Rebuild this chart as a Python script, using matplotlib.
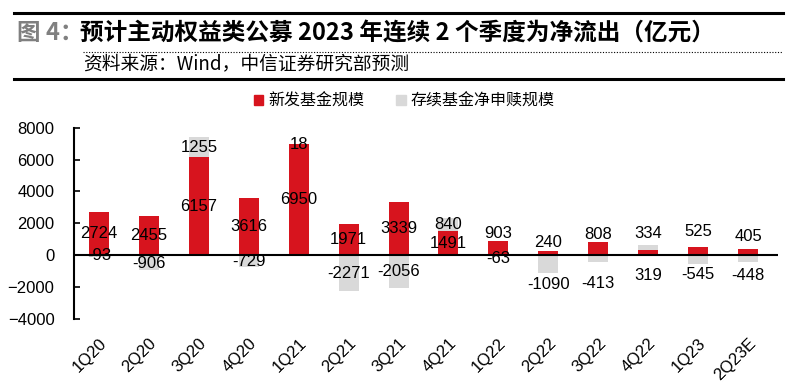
import numpy as np
import matplotlib
matplotlib.use("Agg")
from matplotlib import pyplot as plt
from matplotlib.patches import Rectangle
from matplotlib.lines import Line2D

plt.rcParams['font.family'] = ['Liberation Sans', 'Noto Sans CJK SC', 'DejaVu Sans']

quarters = ['1Q20', '2Q20', '3Q20', '4Q20', '1Q21', '2Q21', '3Q21', '4Q21',
            '1Q22', '2Q22', '3Q22', '4Q22', '1Q23', '2Q23E']
new_funds = [2724, 2455, 6157, 3616, 6950, 1971, 3339, 1491, 903, 240, 808, 334, 525, 405]
net_redeem = [-93, -906, 1255, -729, 18, -2271, -2056, 840, -63, -1090, -413, 319, -545, -448]

title_tag = "图 4："
title_text = "预计主动权益类公募 2023 年连续 2 个季度为净流出（亿元）"
source_text = "资料来源：Wind，中信证券研究部预测"
legend_labels = ["新发基金规模", "存续基金净申赎规模"]

RED = '#D7141E'
GREY = '#D9D9D9'

# labels for the small bars were moved by hand in the original
new_label_moved = {8: 1375, 9: 810, 10: 1310, 11: 1375, 12: 1500, 13: 1190}
redeem_label_moved = {1: -500, 8: -190, 9: -1810, 10: -1750, 11: -1250, 12: -1190, 13: -1250}

fig = plt.figure(figsize=(8, 3.83), dpi=100)
ax = fig.add_axes([0.0925, 0.167, 0.88, 0.4996])

x = np.arange(len(quarters))
new_arr = np.array(new_funds)
red_arr = np.array(net_redeem)
bottoms = np.where(red_arr > 0, new_arr, 0)

ax.bar(x, new_arr, width=0.4, color=RED, zorder=2)
ax.bar(x, red_arr, width=0.4, bottom=bottoms, color=GREY, zorder=1)

for i in range(len(quarters)):
    y1 = new_label_moved.get(i, new_arr[i] / 2)
    ax.text(x[i], y1, str(new_arr[i]), ha='center', va='center', fontsize=12, zorder=3)
    y2 = redeem_label_moved.get(i, bottoms[i] + red_arr[i] / 2)
    ax.text(x[i], y2, str(red_arr[i]), ha='center', va='center', fontsize=12, zorder=3)

ax.axhline(0, color='black', lw=1.5, zorder=4)
ax.set_xlim(-0.5, 13.6)
ax.set_ylim(-4000, 8000)
ax.set_yticks(range(-4000, 8001, 2000))
ax.tick_params(axis='y', direction='in', length=4, width=1.2, labelsize=12, pad=14)
ax.set_xticks(x)
ax.set_xticklabels(quarters, rotation=45, ha='right', va='top', rotation_mode='anchor', fontsize=12)
ax.tick_params(axis='x', length=0, pad=12)
for s in ['top', 'right', 'bottom']:
    ax.spines[s].set_visible(False)
ax.spines['left'].set_linewidth(1.5)

# header
fig.add_artist(Line2D([0.0175, 0.979], [1 - 12.5 / 383] * 2, color='black', lw=2.2))
fig.add_artist(Line2D([0.104, 0.979], [1 - 52 / 383] * 2, color='black', lw=0.8, ls=(0, (1, 1.5))))
fig.add_artist(Line2D([0.0175, 0.979], [1 - 79 / 383] * 2, color='black', lw=2.2))
fig.text(0.021, 1 - 33 / 383, title_tag, fontsize=17, fontweight='bold', color='#808080',
         va='center', family=['Noto Sans CJK SC'])
fig.text(0.1, 1 - 33 / 383, title_text, fontsize=17, fontweight='bold', color='black',
         va='center', family=['Noto Sans CJK SC'])
fig.text(0.104, 1 - 64 / 383, source_text, fontsize=13.5, color='black', va='center',
         family=['Noto Sans CJK SC'])

# legend
handles = [Rectangle((0, 0), 1, 1, color=RED), Rectangle((0, 0), 1, 1, color=GREY)]
fig.legend(handles, legend_labels, loc='center', bbox_to_anchor=(0.505, 1 - 101 / 383),
           ncol=2, frameon=False, handlelength=0.6, handleheight=0.6, handletextpad=0.3,
           columnspacing=2.0, prop={'family': 'Noto Sans CJK SC', 'size': 11.5})

fig.savefig('out.png', dpi=100)
